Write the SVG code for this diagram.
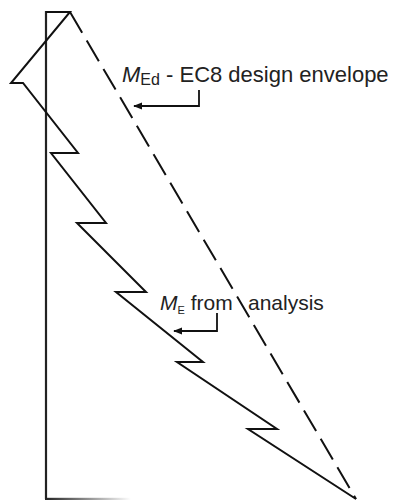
<svg xmlns="http://www.w3.org/2000/svg" width="393" height="500" viewBox="0 0 393 500">
  <style>
    .axis { stroke: #222; stroke-width: 2.2; fill: none; }
    .solid { stroke: #111; stroke-width: 2; fill: none; stroke-linejoin: miter; }
    .dash { stroke: #111; stroke-width: 2; fill: none; stroke-dasharray: 24 9; }
    .lead { stroke: #111; stroke-width: 1.8; fill: none; }
    .lbl { font-family: "Liberation Sans", Arial, sans-serif; font-size: 21px; fill: #222; }
    .big { font-size: 22px; }
    .it { font-style: italic; }
  </style>
  <defs>
    <marker id="arrow" viewBox="0 0 10 8" refX="9" refY="4" markerWidth="5" markerHeight="4" orient="auto" markerUnits="strokeWidth">
      <path d="M0,0 L10,4 L0,8 Z" fill="#111"/>
    </marker>
    <linearGradient id="fade" x1="0" y1="0" x2="1" y2="0">
      <stop offset="0" stop-color="#222"/>
      <stop offset="1" stop-color="#222" stop-opacity="0"/>
    </linearGradient>
  </defs>

  <!-- wall axis -->
  <g id="axis">
    <line class="axis" x1="46" y1="11" x2="46" y2="499"/>
    <rect x="45" y="497.8" width="86" height="2.2" fill="url(#fade)"/>
  </g>

  <!-- moment from analysis -->
  <g id="analysis-curve">
    <polyline class="solid" points="46,12 70,12 11,83 23,83 78,153 51,153 106,223 77,223 146,292 116,292 203,362 177,362 277,429 248,429 356,499"/>
  </g>

  <!-- design envelope -->
  <g id="design-envelope">
    <line class="dash" x1="70" y1="12" x2="356" y2="499"/>
  </g>

  <g id="connectors">
    <polyline class="lead" points="199,90 199,106 134,106" marker-end="url(#arrow)"/>
    <polyline class="lead" points="217,313 217,331 174,331" marker-end="url(#arrow)"/>
  </g>

  <g id="label-envelope">
    <text class="lbl big" x="122" y="82"><tspan class="it">M</tspan><tspan font-size="16" dy="3">Ed</tspan><tspan dy="-3"> - EC8 design envelope</tspan></text>
  </g>

  <g id="label-analysis">
    <text class="lbl" x="160" y="310"><tspan class="it">M</tspan><tspan font-size="11" dy="4">E</tspan><tspan dy="-4"> from </tspan></text>
    <text class="lbl" x="248" y="310">analysis</text>
  </g>
</svg>
